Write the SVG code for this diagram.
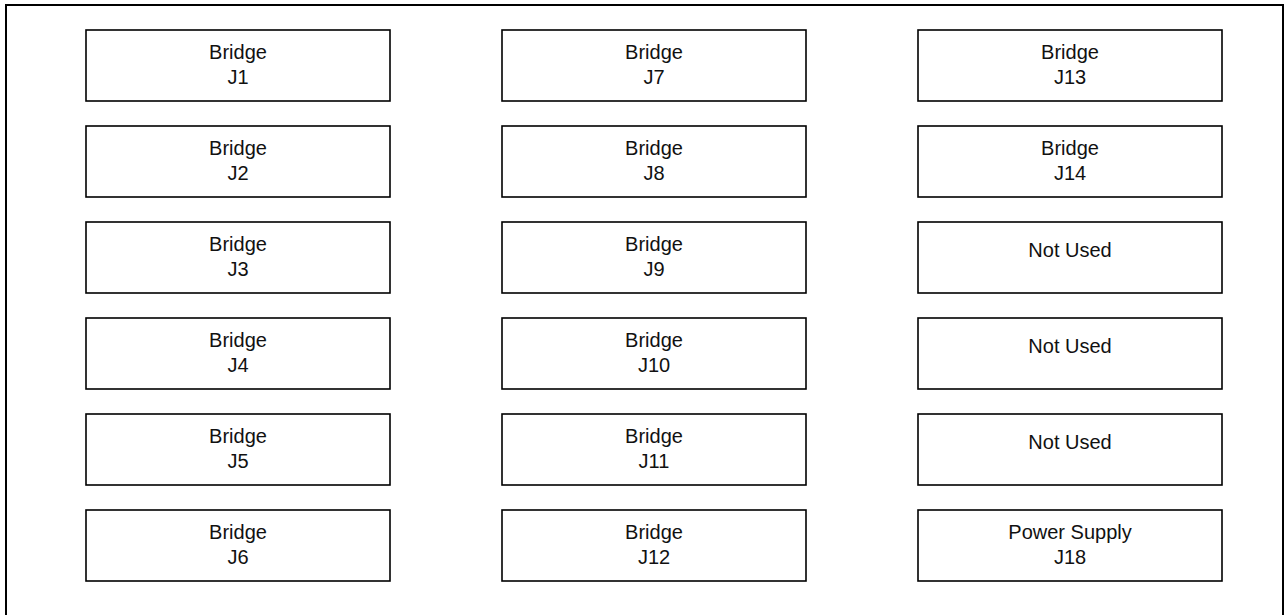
<svg xmlns="http://www.w3.org/2000/svg" width="1286" height="615" viewBox="0 0 1286 615">
<style>
.frame{fill:#fff;stroke:#000;stroke-width:2}
.box{fill:#fff;stroke:#000;stroke-width:1.6}
.t{font-family:"Liberation Sans",Arial,sans-serif;font-size:20px;fill:#111;text-anchor:middle}
</style>
<rect x="0" y="0" width="1286" height="615" fill="#fff"/>
<rect class="frame" x="6" y="5" width="1277" height="630"/>
<g id="connectors"/>
<g id="J1"><rect class="box" x="86" y="30" width="304" height="71"/><text class="t" x="238" y="59">Bridge</text><text class="t" x="238" y="84">J1</text></g>
<g id="J2"><rect class="box" x="86" y="126" width="304" height="71"/><text class="t" x="238" y="155">Bridge</text><text class="t" x="238" y="180">J2</text></g>
<g id="J3"><rect class="box" x="86" y="222" width="304" height="71"/><text class="t" x="238" y="251">Bridge</text><text class="t" x="238" y="276">J3</text></g>
<g id="J4"><rect class="box" x="86" y="318" width="304" height="71"/><text class="t" x="238" y="347">Bridge</text><text class="t" x="238" y="372">J4</text></g>
<g id="J5"><rect class="box" x="86" y="414" width="304" height="71"/><text class="t" x="238" y="443">Bridge</text><text class="t" x="238" y="468">J5</text></g>
<g id="J6"><rect class="box" x="86" y="510" width="304" height="71"/><text class="t" x="238" y="539">Bridge</text><text class="t" x="238" y="564">J6</text></g>
<g id="J7"><rect class="box" x="502" y="30" width="304" height="71"/><text class="t" x="654" y="59">Bridge</text><text class="t" x="654" y="84">J7</text></g>
<g id="J8"><rect class="box" x="502" y="126" width="304" height="71"/><text class="t" x="654" y="155">Bridge</text><text class="t" x="654" y="180">J8</text></g>
<g id="J9"><rect class="box" x="502" y="222" width="304" height="71"/><text class="t" x="654" y="251">Bridge</text><text class="t" x="654" y="276">J9</text></g>
<g id="J10"><rect class="box" x="502" y="318" width="304" height="71"/><text class="t" x="654" y="347">Bridge</text><text class="t" x="654" y="372">J10</text></g>
<g id="J11"><rect class="box" x="502" y="414" width="304" height="71"/><text class="t" x="654" y="443">Bridge</text><text class="t" x="654" y="468">J11</text></g>
<g id="J12"><rect class="box" x="502" y="510" width="304" height="71"/><text class="t" x="654" y="539">Bridge</text><text class="t" x="654" y="564">J12</text></g>
<g id="J13"><rect class="box" x="918" y="30" width="304" height="71"/><text class="t" x="1070" y="59">Bridge</text><text class="t" x="1070" y="84">J13</text></g>
<g id="J14"><rect class="box" x="918" y="126" width="304" height="71"/><text class="t" x="1070" y="155">Bridge</text><text class="t" x="1070" y="180">J14</text></g>
<g id="NU1"><rect class="box" x="918" y="222" width="304" height="71"/><text class="t" x="1070" y="257">Not Used</text></g>
<g id="NU2"><rect class="box" x="918" y="318" width="304" height="71"/><text class="t" x="1070" y="353">Not Used</text></g>
<g id="NU3"><rect class="box" x="918" y="414" width="304" height="71"/><text class="t" x="1070" y="449">Not Used</text></g>
<g id="J18"><rect class="box" x="918" y="510" width="304" height="71"/><text class="t" x="1070" y="539">Power Supply</text><text class="t" x="1070" y="564">J18</text></g>
</svg>
